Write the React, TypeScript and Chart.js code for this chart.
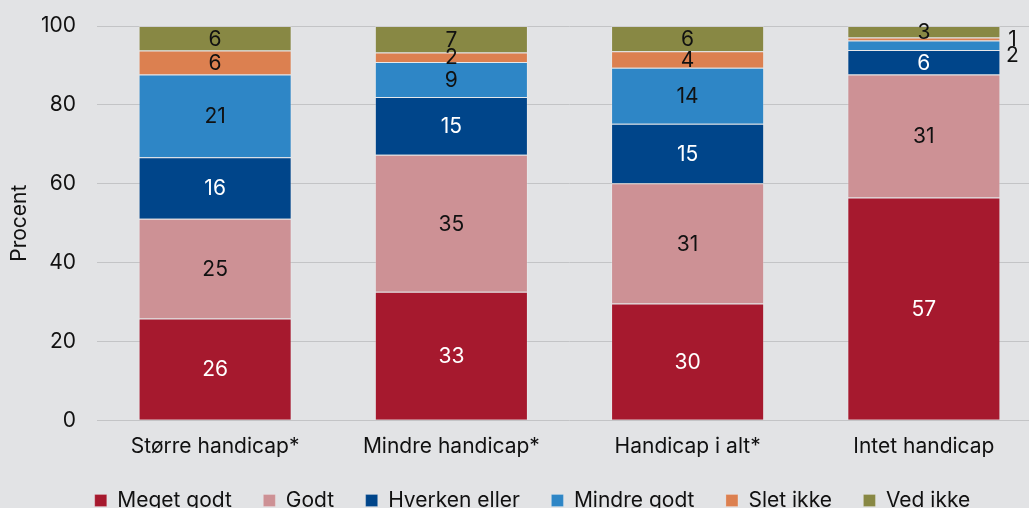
import React, { useEffect, useRef } from 'react';
import { Chart, registerables } from 'chart.js';

Chart.register(...registerables);

const categories = ['Større handicap*', 'Mindre handicap*', 'Handicap i alt*', 'Intet handicap'];
const seriesNames = ['Meget godt', 'Godt', 'Hverken eller', 'Mindre godt', 'Slet ikke', 'Ved ikke'];
const megetGodt = [25.8, 32.6, 29.6, 56.5];
const godt = [25.3, 34.75, 30.5, 31.2];
const hverkenEller = [15.6, 14.65, 15.1, 6.2];
const mindreGodt = [21.0, 8.9, 14.2, 2.4];
const sletIkke = [6.1, 2.4, 4.2, 0.8];
const vedIkke = [6.2, 6.7, 6.4, 2.9];
const seriesColors = ['#a6192e', '#cd9195', '#00458a', '#2e86c6', '#dc8050', '#888844'];
const labelColors = ['#ffffff', '#111111', '#ffffff', '#111111', '#111111', '#111111'];
// labels drawn beside the bar instead of inside: [datasetIndex, categoryIndex]
const outsideLabels = [[3, 3], [4, 3]];
const yTicks = [0, 20, 40, 60, 80, 100];

const FONT = 'Inter';
const FS = 21;

const labelPlugin = {
  id: 'segLabels',
  afterDatasetsDraw(chart: any) {
    const ctx = chart.ctx;
    ctx.save();
    ctx.font = `${FS}px ${FONT}`;
    ctx.textAlign = 'center';
    ctx.textBaseline = 'middle';
    const outside: { x: number; y: number; text: string; color: string }[] = [];
    chart.data.datasets.forEach((ds: any, di: number) => {
      const meta = chart.getDatasetMeta(di);
      meta.data.forEach((el: any, ci: number) => {
        const v = ds.data[ci];
        const text = String(Math.round(v));
        const cy = (el.y + el.base) / 2;
        const isOut = outsideLabels.some(([d, c]) => d === di && c === ci);
        if (isOut) {
          outside.push({ x: el.x + el.width / 2 + 12, y: cy, text, color: '#111111' });
        } else {
          ctx.fillStyle = labelColors[di];
          ctx.fillText(text, el.x, cy + 1);
        }
      });
    });
    outside.sort((a, b) => a.y - b.y);
    const gap = 16;
    if (outside.length > 1) {
      const mean = outside.reduce((s, o) => s + o.y, 0) / outside.length + 6;
      const start = mean - (gap * (outside.length - 1)) / 2;
      outside.forEach((o, i) => (o.y = start + i * gap));
    }
    outside.forEach((o) => {
      ctx.fillStyle = o.color;
      ctx.fillText(o.text, o.x, o.y);
    });
    ctx.restore();
  },
};

const bgPlugin = {
  id: 'bg',
  beforeDraw(chart: any) {
    const ctx = chart.ctx;
    ctx.save();
    ctx.fillStyle = '#e2e3e5';
    ctx.fillRect(0, 0, chart.width, chart.height);
    ctx.restore();
  },
};

const legendShiftPlugin = {
  id: 'legendShift',
  afterLayout(chart: any) {
    if (chart.legend) {
      chart.legend.left += 10;
      chart.legend.right += 10;
    }
  },
};

export default function App() {
  const ref = useRef<HTMLCanvasElement>(null);
  useEffect(() => {
    if (!ref.current) return;
    const series = [megetGodt, godt, hverkenEller, mindreGodt, sletIkke, vedIkke];
    const chart = new Chart(ref.current, {
      type: 'bar',
      data: {
        labels: categories,
        datasets: series.map((d, i) => ({
          label: seriesNames[i],
          data: d,
          backgroundColor: seriesColors[i],
          borderColor: 'rgba(255,255,255,0.2)',
          borderWidth: 1,
          categoryPercentage: 1,
          barPercentage: 0.648,
        })),
      },
      options: {
        responsive: false,
        animation: false,
        layout: { padding: { top: 26, right: 22, left: 3, bottom: 0 } },
        plugins: {
          tooltip: { enabled: false },
          legend: {
            position: 'bottom',
            labels: {
              boxWidth: 12,
              boxHeight: 12,
              padding: 31.5,
              color: '#111111',
              font: { family: FONT, size: FS },
            },
          },
        },
        scales: {
          x: {
            stacked: true,
            grid: { display: false, drawTicks: false },
            border: { display: false },
            ticks: { color: '#111111', font: { family: FONT, size: FS }, padding: 14 },
            afterFit: (scale: any) => {
              scale.height -= 15;
            },
          },
          y: {
            stacked: true,
            min: 0,
            max: 100,
            afterBuildTicks: (axis: any) => {
              axis.ticks = yTicks.map((v) => ({ value: v }));
            },
            afterFit: (scale: any) => {
              scale.width = 94;
              scale.paddingTop = 0;
              scale.paddingBottom = 0;
            },
            grid: { color: '#c3c4c6', lineWidth: 1, drawTicks: false },
            border: { display: false },
            ticks: { color: '#111111', font: { family: FONT, size: FS }, padding: 21 },
            title: {
              display: true,
              text: 'Procent',
              color: '#111111',
              font: { family: FONT, size: FS },
              padding: { top: 4, bottom: 9 },
            },
          },
        },
      },
      plugins: [bgPlugin, labelPlugin, legendShiftPlugin],
    });
    return () => chart.destroy();
  }, []);
  return (
    <div style={{ position: 'fixed', left: 0, top: 0, width: 1064, height: 508, overflow: 'hidden', background: '#e2e3e5' }}>
      <canvas ref={ref} width={1064} height={521} style={{ display: 'block' }} />
    </div>
  );
}
